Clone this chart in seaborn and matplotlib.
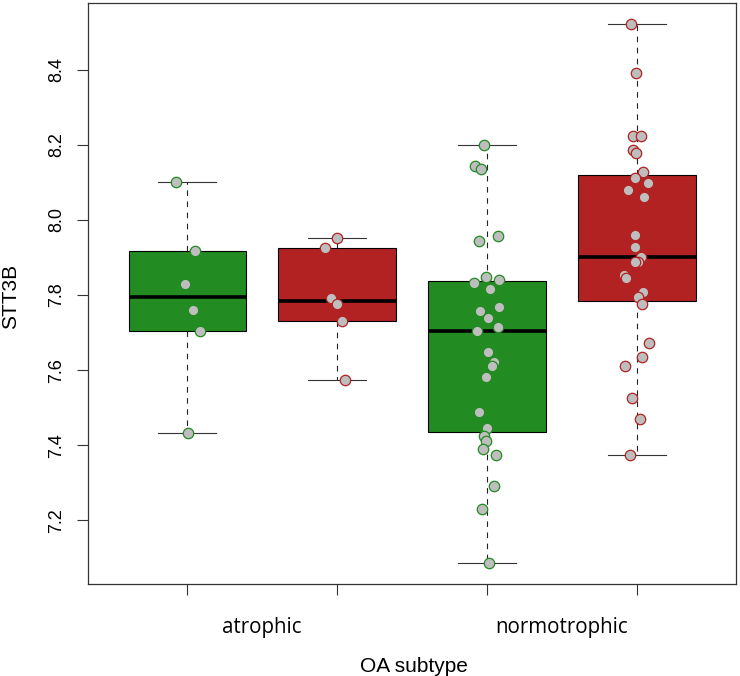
import numpy as np
import pandas as pd
import matplotlib
matplotlib.use("Agg")
import matplotlib.cbook
import matplotlib.pyplot as plt
import seaborn as sns

# ---- data ----
subtypes = ["atrophic", "normotrophic"]
groups = ["group1", "group2"]
group_colors = ["#228B22", "#B22222"]

atrophic_g1 = [8.102, 7.918, 7.830, 7.760, 7.705, 7.433]
atrophic_g2 = [7.951, 7.925, 7.792, 7.776, 7.732, 7.575]
normotrophic_g1 = [8.200, 8.142, 8.135, 7.956, 7.944, 7.848, 7.841, 7.832, 7.816,
                   7.768, 7.758, 7.738, 7.715, 7.703, 7.648, 7.623, 7.610, 7.583,
                   7.490, 7.447, 7.425, 7.411, 7.391, 7.373, 7.292, 7.230, 7.088]
normotrophic_g2 = [8.522, 8.392, 8.224, 8.224, 8.187, 8.177, 8.127, 8.112, 8.098,
                   8.080, 8.062, 7.959, 7.927, 7.901, 7.889, 7.889, 7.854, 7.844,
                   7.809, 7.794, 7.776, 7.672, 7.635, 7.611, 7.526, 7.471, 7.375]
yticks = [7.2, 7.4, 7.6, 7.8, 8.0, 8.2, 8.4]

series = [
    ("atrophic", "group1", atrophic_g1),
    ("atrophic", "group2", atrophic_g2),
    ("normotrophic", "group1", normotrophic_g1),
    ("normotrophic", "group2", normotrophic_g2),
]
rows = []
for sub, grp, vals in series:
    for v in vals:
        rows.append({"subtype": sub, "group": grp, "cell": f"{sub}.{grp}", "STT3B": v})
df = pd.DataFrame(rows)
cell_order = [f"{s}.{g}" for s in subtypes for g in groups]


# R-style (Tukey fivenum) hinges for the boxes
def _r_hinges(x):
    x = np.sort(np.asarray(x, dtype=float))
    n = len(x)
    n4 = np.floor((n + 3) / 2) / 2
    lo = 0.5 * (x[int(np.floor(n4)) - 1] + x[int(np.ceil(n4)) - 1])
    d = n + 1 - n4
    hi = 0.5 * (x[int(np.floor(d)) - 1] + x[int(np.ceil(d)) - 1])
    return lo, hi


_orig_stats = matplotlib.cbook.boxplot_stats


def _stats(X, *args, **kwargs):
    out = _orig_stats(X, *args, **kwargs)
    data = list(X) if isinstance(X, (list, tuple)) else [X]
    if len(data) == len(out):
        for st, x in zip(out, data):
            if len(np.asarray(x)) > 0:
                lo, hi = _r_hinges(x)
                st["q1"], st["q3"], st["iqr"] = lo, hi, hi - lo
    return out


matplotlib.cbook.boxplot_stats = _stats

# ---- figure ----
plt.rcParams["font.family"] = ["Liberation Sans", "DejaVu Sans"]
W, H = 740, 676
fig = plt.figure(figsize=(W / 100, H / 100), dpi=100)
ax = fig.add_axes([88 / W, 1 - 584 / H, (736 - 88) / W, (584 - 3) / H])

pal = dict(zip(groups, group_colors))
sns.boxplot(data=df, x="cell", y="STT3B", hue="group", order=cell_order,
            hue_order=groups, palette=pal, saturation=1, dodge=False,
            width=0.78, whis=np.inf, showfliers=False, linecolor="black",
            linewidth=0.8, legend=False, ax=ax,
            medianprops=dict(linewidth=2.6, color="black"),
            whiskerprops=dict(linestyle=(0, (5, 5)), color="#222222"),
            capprops=dict(color="#333333"))

np.random.seed(7)
sns.stripplot(data=df, x="cell", y="STT3B", hue="group", order=cell_order,
              hue_order=groups, palette=pal, dodge=False, jitter=0.09,
              size=7.5, linewidth=0.9, legend=False, ax=ax, zorder=3)
for coll in ax.collections:
    fc = coll.get_facecolor()
    if len(fc):
        coll.set_edgecolor(fc[0])
        coll.set_facecolor("#BEBEBE")

ax.set_xlim(-0.66, 3.66)
ax.set_ylim(7.031, 8.577)
ax.set_yticks(yticks)
ax.set_yticklabels([f"{t:.1f}" for t in yticks])
for lab in ax.get_yticklabels():
    lab.set_rotation(90)
    lab.set_va("center")
ax.tick_params(axis="y", length=8, width=0.8, pad=8.6, labelsize=13, color="#333333")

ax.set_xticks(range(len(cell_order)))
ax.set_xticklabels([""] * len(cell_order))
ax.tick_params(axis="x", which="major", length=8, width=0.8, color="#333333")
ax.set_xticks([0.5, 2.5], minor=True)
ax.set_xticklabels(subtypes, minor=True, family=["Open Sans", "DejaVu Sans"], fontsize=14.8)
ax.tick_params(axis="x", which="minor", length=0, pad=24)

ax.set_xlabel("")
ax.set_ylabel("")
for s in ax.spines.values():
    s.set_visible(True)
    s.set_linewidth(0.9)
    s.set_color("#333333")

fig.text(414 / W, 1 - 672 / H, "OA subtype", ha="center", va="baseline", fontsize=15)
fig.text(16 / W, 1 - 296 / H, "STT3B", ha="center", va="baseline", rotation=90,
         rotation_mode="anchor", fontsize=15)

fig.savefig("out.png", dpi=100)
